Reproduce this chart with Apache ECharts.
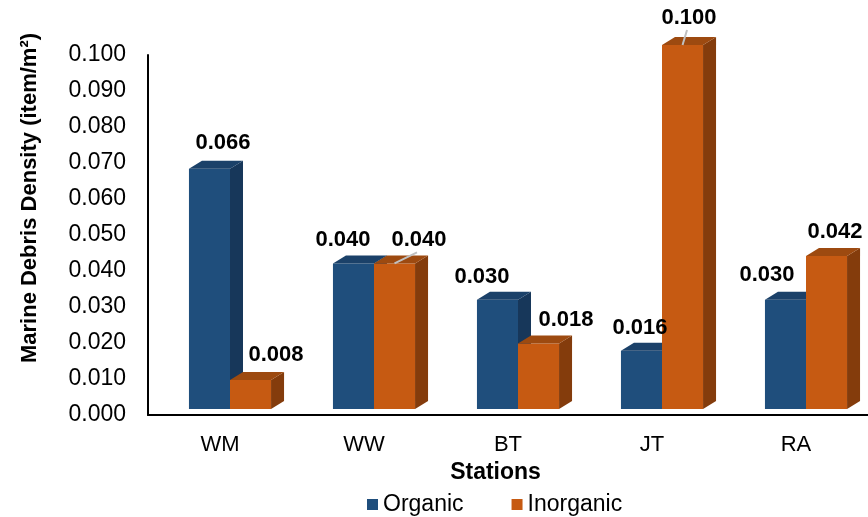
<!DOCTYPE html>
<html>
<head>
<meta charset="utf-8">
<title>Marine Debris Density by Station</title>
<script src="https://cdn.jsdelivr.net/npm/echarts/dist/echarts.min.js"></script>
<style>
  html, body { margin: 0; padding: 0; background: #ffffff; }
  #chart { width: 868px; height: 517px; }
</style>
</head>
<body>
<div id="chart"></div>
<script>
// Stations and densities (item/m²)
const stations = ['WM', 'WW', 'BT', 'JT', 'RA'];
const organic = [0.066, 0.040, 0.030, 0.016, 0.030];
const inorganic = [0.008, 0.040, 0.018, 0.100, 0.042];

// Value axis ticks
const yMin = 0;
const yMax = 0.1;
const yStep = 0.01;

// Hand-placed value labels: [dx, dy] nudges from the default spot above each bar
const organicLabelShift = [[7, -5], [-17, -2], [-22, -2], [-8, -2], [-25, -4]];
const inorganicLabelShift = [[19, -4], [18, -2], [21, -3], [0, -6], [2, -3]];
// Value labels that are tied back to their bar by a short leader line
const inorganicLeader = [false, true, false, true, false];

const FONT = 'Arial, "Liberation Sans", Helvetica, sans-serif';
const DX = 13;        // depth of the 3D box, horizontal
const DY = 8;         // depth of the 3D box, vertical
const FRONT_X = 10;   // front plane sits a little right of the axis plane

const organicFaces = { front: '#1f4e7c', side: '#17375a', top: '#1b4169' };
const inorganicFaces = { front: '#c65a12', side: '#843c0c', top: '#9d4a10' };

// Draws one pseudo-3D column (front, side and top faces) plus its value label
function columnRenderer(side, faces, shifts, leaders) {
  return function (params, api) {
    const idx = api.value(0);
    const v = api.value(1);
    const top = api.coord([idx, v]);
    const base = api.coord([idx, 0]);
    const band = api.size([1, 0])[0];
    const w = band * 0.285;
    const cx = top[0] + FRONT_X;
    const x0 = side < 0 ? cx - w : cx;
    const x1 = x0 + w;
    const yT = top[1];
    const yB = base[1];
    const children = [
      { type: 'rect', z2: 1, shape: { x: x0, y: yT, width: w, height: yB - yT }, style: { fill: faces.front } },
      { type: 'polygon', z2: 1, shape: { points: [[x1, yT], [x1 + DX, yT - DY], [x1 + DX, yB - DY], [x1, yB]] }, style: { fill: faces.side } },
      { type: 'polygon', z2: 1, shape: { points: [[x0, yT], [x0 + DX, yT - DY], [x1 + DX, yT - DY], [x1, yT]] }, style: { fill: faces.top } }
    ];
    const sh = shifts[idx];
    const lx = (x0 + x1) / 2 + DX / 2 + sh[0];
    const ly = yT - DY - 13 + sh[1];
    if (leaders && leaders[idx]) {
      children.push({
        type: 'line', z2: 50,
        shape: { x1: (x0 + x1) / 2, y1: yT, x2: lx - 2, y2: ly + 12 },
        style: { stroke: '#c0c0c0', lineWidth: 2 }
      });
    }
    // labels sit above every column, including the neighbouring series
    children.push({
      type: 'text', z2: 100,
      style: {
        text: v.toFixed(3), x: lx, y: ly, align: 'center', verticalAlign: 'middle',
        font: 'bold 22px ' + FONT, fill: '#000000'
      }
    });
    return { type: 'group', children: children };
  };
}

const chart = echarts.init(document.getElementById('chart'), null, { renderer: 'canvas' });

chart.setOption({
  backgroundColor: '#ffffff',
  animation: false,
  textStyle: { fontFamily: FONT },
  legend: {
    data: ['Organic', 'Inorganic'],
    icon: 'rect',
    itemWidth: 11,
    itemHeight: 11,
    itemGap: 48,
    left: 362,
    top: 488,
    textStyle: { fontSize: 23, color: '#000000', fontFamily: FONT }
  },
  grid: [
    // axes plane
    { left: 148, top: 55, width: 720, height: 360 },
    // front plane of the columns
    { left: 148, top: 45, width: 720, height: 364 }
  ],
  xAxis: [
    {
      type: 'category', gridIndex: 0, data: stations,
      axisLine: { show: true, lineStyle: { color: '#000000', width: 2 } },
      axisTick: { show: false },
      axisLabel: { color: '#000000', fontSize: 22, margin: 19, fontFamily: FONT },
      name: 'Stations', nameLocation: 'middle', nameGap: 46,
      nameTextStyle: { fontWeight: 'bold', fontSize: 23, color: '#000000', fontFamily: FONT, padding: [0, 25, 0, 0] }
    },
    { type: 'category', gridIndex: 1, data: stations, show: false }
  ],
  yAxis: [
    {
      type: 'value', gridIndex: 0, min: yMin, max: yMax, interval: yStep,
      axisLine: { show: true, lineStyle: { color: '#000000', width: 2 } },
      axisTick: { show: false },
      splitLine: { show: false },
      axisLabel: {
        color: '#000000', fontSize: 23, margin: 22, fontFamily: FONT,
        formatter: function (val) { return val.toFixed(3); }
      },
      name: 'Marine Debris Density (item/m²)', nameLocation: 'middle', nameGap: 107, nameRotate: 90,
      nameTextStyle: { fontWeight: 'bold', fontSize: 22, color: '#000000', fontFamily: FONT, padding: [0, 0, 0, 74] }
    },
    { type: 'value', gridIndex: 1, min: yMin, max: yMax, show: false, splitLine: { show: false } }
  ],
  series: [
    {
      name: 'Organic', type: 'custom', xAxisIndex: 1, yAxisIndex: 1,
      itemStyle: { color: organicFaces.front },
      renderItem: columnRenderer(-1, organicFaces, organicLabelShift, null),
      encode: { x: 0, y: 1 },
      data: organic.map(function (v, i) { return [i, v]; })
    },
    {
      name: 'Inorganic', type: 'custom', xAxisIndex: 1, yAxisIndex: 1,
      itemStyle: { color: inorganicFaces.front },
      renderItem: columnRenderer(1, inorganicFaces, inorganicLabelShift, inorganicLeader),
      encode: { x: 0, y: 1 },
      data: inorganic.map(function (v, i) { return [i, v]; })
    }
  ]
});
</script>
</body>
</html>
